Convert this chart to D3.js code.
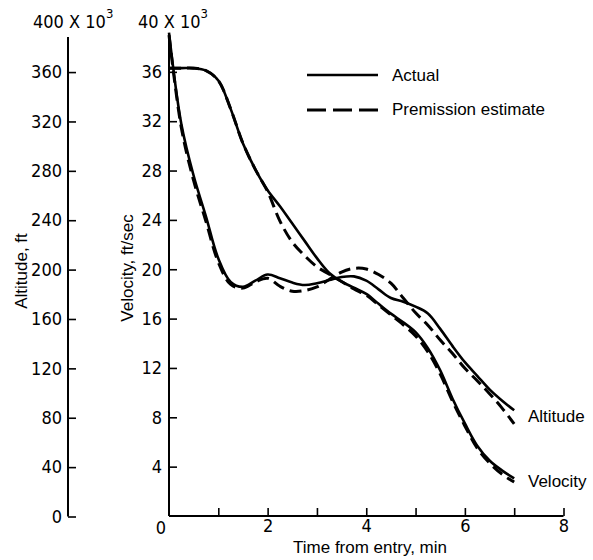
<!DOCTYPE html>
<html><head><meta charset="utf-8">
<script src="https://cdn.jsdelivr.net/npm/d3@7"></script>
<style>
body{margin:0;background:#fff;}
svg{display:block;}
.num{font-family:"Liberation Sans Narrow","Arial Narrow","DejaVu Sans Condensed",sans-serif;font-size:18px;fill:#000;}
.lab{font-family:"Liberation Sans",Arial,sans-serif;font-size:17px;fill:#000;}
</style></head><body>
<svg id="c" width="593" height="560"></svg>
<script>
// ---- data ----
const timeMin = [0,0.25,0.5,0.75,1,1.25,1.5,1.75,2,2.25,2.5,2.75,3,3.25,3.5,3.75,4,4.25,4.5,4.75,5,5.25,5.5,5.75,6,6.25,6.5,6.75,7];
// altitude, thousands of ft
const altitudeActual =     [392,318,276,243,209,190,186,191,196,193,189.5,187.5,189,191.5,194,194.5,191,184,177,174,170,164.5,152,138,125,114,103,94,86];
const altitudePremission = [390,315,272,239,206,188,185,190,193,186.5,182.5,183,186,192,198,201,200.5,196,189,177,165,155,143,132,120,110,99.5,88,75];
// velocity, thousands of ft/sec
const velocityActual =     [36.3,36.3,36.3,36.1,35.3,33.0,30.2,28.1,26.4,25.1,23.7,22.3,20.9,19.7,19.0,18.5,18.0,17.2,16.4,15.7,14.9,13.6,11.8,9.5,7.5,5.7,4.5,3.7,3.05];
const velocityPremission = [36.3,36.3,36.3,36.1,35.3,33.0,30.2,28.1,26.3,23.9,22.2,21.1,20.2,19.6,19.0,18.4,17.9,17.1,16.3,15.5,14.6,13.3,11.5,9.3,7.3,5.5,4.3,3.4,2.75];
const altitudeTicks = [0,40,80,120,160,200,240,280,320,360];
const velocityTicks = [4,8,12,16,20,24,28,32,36];
const timeTicks = [1,2,3,4,5,6,7,8];
const timeTickLabels = [2,4,6,8];
const legendLabels = ["Actual","Premission estimate"];
const curveLabels = ["Altitude","Velocity"];

// ---- scales ----
const svg = d3.select("#c");
const x = d3.scaleLinear().domain([0,8]).range([169,563.5]);
const yAlt = d3.scaleLinear().domain([0,400]).range([516.5,22.7]);
const yVel = d3.scaleLinear().domain([0,40]).range([516,22.5]);

// ---- left (altitude) axis ----
const gA = svg.append("g").attr("transform","translate(68,0)")
  .call(d3.axisLeft(yAlt).tickValues(altitudeTicks).tickSize(-8).tickPadding(6));
gA.select(".domain").remove();
gA.selectAll("line").attr("stroke","#000").attr("stroke-width",1.6);
gA.selectAll("text").attr("class","num").attr("font-family",null).attr("font-size",null);
svg.append("line").attr("x1",68).attr("x2",68).attr("y1",37).attr("y2",yAlt(0)).attr("stroke","#000").attr("stroke-width",2);

// ---- velocity axis ----
const gV = svg.append("g").attr("transform","translate(169,0)")
  .call(d3.axisLeft(yVel).tickValues(velocityTicks).tickSize(-8).tickPadding(7));
gV.select(".domain").remove();
gV.selectAll("line").attr("stroke","#000").attr("stroke-width",1.6);
gV.selectAll("text").attr("class","num").attr("font-family",null).attr("font-size",null);
svg.append("line").attr("x1",169).attr("x2",169).attr("y1",37).attr("y2",yVel(0)).attr("stroke","#000").attr("stroke-width",2);

// ---- time axis ----
const gX = svg.append("g").attr("transform","translate(0,"+yVel(0)+")")
  .call(d3.axisBottom(x).tickValues(timeTicks).tickSize(-8).tickPadding(3)
    .tickFormat(d => timeTickLabels.includes(d) ? d : ""));
gX.select(".domain").remove();
gX.selectAll("line").attr("stroke","#000").attr("stroke-width",1.6);
gX.selectAll("text").attr("class","num").attr("font-family",null).attr("font-size",null);
svg.append("line").attr("x1",x(0)).attr("x2",x(8)).attr("y1",yVel(0)).attr("y2",yVel(0)).attr("stroke","#000").attr("stroke-width",2);
svg.append("text").attr("class","num").attr("x",161).attr("y",534).attr("text-anchor","middle").text("0");

// top multiplier labels
function mult(xp, base){
  const t = svg.append("text").attr("class","num").attr("x",xp).attr("y",28).text(base);
  t.append("tspan").attr("dy",-10).attr("font-size",13).text("3");
}
mult(33, "400 X 10");
mult(138, "40 X 10");

// axis titles
svg.append("text").attr("class","lab").attr("text-anchor","middle")
  .attr("transform","translate(27,271) rotate(-90)").text("Altitude, ft");
svg.append("text").attr("class","lab").attr("text-anchor","middle")
  .attr("transform","translate(133,268) rotate(-90)").text("Velocity, ft/sec");
svg.append("text").attr("class","lab").attr("text-anchor","middle")
  .attr("x",370).attr("y",553).text("Time from entry, min");

// ---- curves ----
const lineAlt = d3.line().x((d,i)=>x(timeMin[i])).y(d=>yAlt(d)).curve(d3.curveCatmullRom.alpha(0.5));
const lineVel = d3.line().x((d,i)=>x(timeMin[i])).y(d=>yVel(d)).curve(d3.curveCatmullRom.alpha(0.5));
const solid = {stroke:"#000","stroke-width":2.6,fill:"none"};
const dashed = {stroke:"#000","stroke-width":3,fill:"none","stroke-dasharray":"12,6"};
function draw(path, style){
  const p = svg.append("path").attr("d",path);
  Object.entries(style).forEach(([k,v])=>p.attr(k,v));
}
draw(lineAlt(altitudePremission), dashed);
draw(lineAlt(altitudeActual), solid);
draw(lineVel(velocityPremission), dashed);
draw(lineVel(velocityActual), solid);

// end labels
svg.append("text").attr("class","lab").attr("x",528).attr("y",yAlt(altitudeActual[altitudeActual.length-1])+12).text(curveLabels[0]);
svg.append("text").attr("class","lab").attr("x",528).attr("y",yVel(velocityActual[velocityActual.length-1])+9).text(curveLabels[1]);

// ---- legend ----
svg.append("line").attr("x1",307).attr("x2",378).attr("y1",75).attr("y2",75).attr("stroke","#000").attr("stroke-width",2.6);
svg.append("line").attr("x1",307).attr("x2",378).attr("y1",110).attr("y2",110).attr("stroke","#000").attr("stroke-width",3).attr("stroke-dasharray","19,7");
svg.append("text").attr("class","lab").attr("font-size",16).attr("x",392).attr("y",81).text(legendLabels[0]);
svg.append("text").attr("class","lab").attr("font-size",16).attr("x",392).attr("y",115).text(legendLabels[1]);
</script>
</body></html>
